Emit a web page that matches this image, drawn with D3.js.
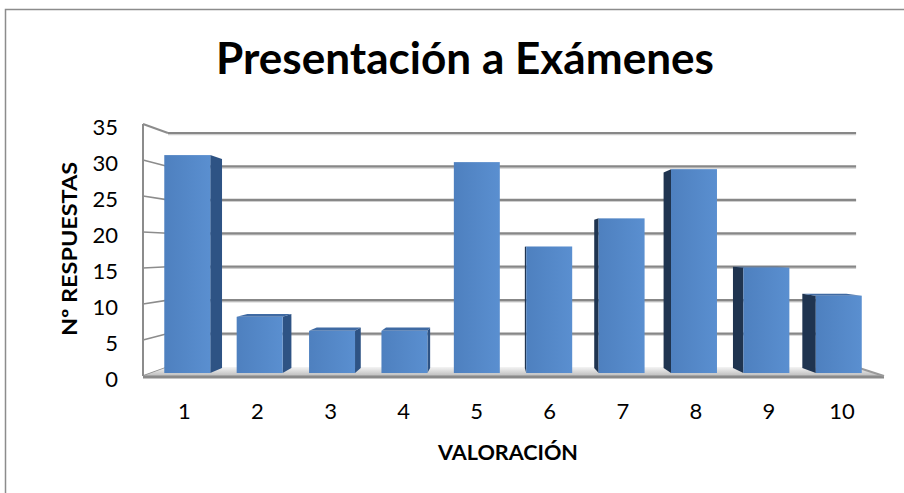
<!DOCTYPE html>
<html>
<head>
<meta charset="utf-8">
<script src="https://cdn.jsdelivr.net/npm/d3@7"></script>
<style>
  html, body { margin: 0; padding: 0; background: #fff; }
  svg { display: block; }
</style>
</head>
<body>
<svg id="chart" width="904" height="493"></svg>
<script>
// Responses per rating
const categories = ["1", "2", "3", "4", "5", "6", "7", "8", "9", "10"];
const responses = [31, 8, 6, 6, 30, 18, 22, 29, 15, 11];
const yTicks = [0, 5, 10, 15, 20, 25, 30, 35];
const chartTitle = "Presentación a Exámenes";
const xTitle = "VALORACIÓN";
const yTitle = "Nº RESPUESTAS";

const W = 904, H = 493;
const svg = d3.select("#chart");

// Front plane scales
const x = d3.scaleBand().domain(categories).range([143, 884])
  .paddingInner(0.365).paddingOuter(0.18);
const y = d3.scaleLinear().domain([0, 35]).range([376, 124]);

// Simple one-point perspective: depth 0 = front plane, depth 1 = back wall
const VX = 493, VY = 250, K = 0.9286;
function P(xf, v, d) {
  const s = 1 - d * (1 - K);
  return [VX + (xf - VX) * s, VY + (y(v) - VY) * s];
}
const poly = pts => "M" + pts.map(p => p.join(",")).join("L") + "Z";

const defs = svg.append("defs");
const gFront = defs.append("linearGradient").attr("id", "front").attr("x1", 0).attr("x2", 1);
gFront.append("stop").attr("offset", 0).attr("stop-color", "#4e80bf");
gFront.append("stop").attr("offset", 1).attr("stop-color", "#5a8fd0");
const gFloor = defs.append("linearGradient").attr("id", "floor").attr("x1", 0).attr("x2", 0).attr("y1", 0).attr("y2", 1);
gFloor.append("stop").attr("offset", 0).attr("stop-color", "#f4f4f4");
gFloor.append("stop").attr("offset", 1).attr("stop-color", "#bdbdbd");

// Outer chart border
svg.append("rect").attr("x", 5.5).attr("y", 9.5).attr("width", W + 10).attr("height", H + 10)
  .attr("fill", "none").attr("stroke", "#8c8c8c").attr("stroke-width", 1.5);

const font = "Lato, 'Open Sans', sans-serif";

// Title
svg.append("text").attr("x", 465).attr("y", 74).attr("text-anchor", "middle")
  .attr("font-family", font).attr("font-weight", 700).attr("font-size", 43)
  .attr("textLength", 498).attr("lengthAdjust", "spacingAndGlyphs")
  .attr("fill", "#000").text(chartTitle);

const [x0, x1] = x.range();

// Back wall gridlines
const grid = svg.append("g");
yTicks.filter(t => t > 0).forEach(t => {
  const a = P(x0, t, 1), b = P(x1, t, 1);
  grid.append("line").attr("x1", a[0]).attr("y1", a[1] + 1.5).attr("x2", b[0]).attr("y2", b[1] + 1.5)
    .attr("stroke", "#cfcfcf").attr("stroke-width", 1.5);
  grid.append("line").attr("x1", a[0]).attr("y1", a[1]).attr("x2", b[0]).attr("y2", b[1])
    .attr("stroke", "#878787").attr("stroke-width", 2.2);
});

// Left wall: front edge and tick lines receding to the back
const wall = svg.append("g").attr("stroke", "#8c8c8c").attr("fill", "none");
wall.append("line").attr("x1", x0).attr("y1", y(35)).attr("x2", x0).attr("y2", y(0)).attr("stroke-width", 2);
yTicks.forEach(t => {
  const a = P(x0, t, 0), b = P(x0, t, 1);
  wall.append("line").attr("x1", a[0]).attr("y1", a[1]).attr("x2", b[0]).attr("y2", b[1])
    .attr("stroke-width", t === 35 ? 2 : 1.6);
});

// Floor slab
const f = [P(x0, 0, 0), P(x1, 0, 0), P(x1, 0, 1), P(x0, 0, 1)];
svg.append("path").attr("d", poly(f)).attr("fill", "url(#floor)");
svg.append("line").attr("x1", x0).attr("y1", y(0) + 1).attr("x2", x1).attr("y2", y(0) + 1)
  .attr("stroke", "#8a8a8a").attr("stroke-width", 3);
svg.append("line").attr("x1", P(x1, 0, 1)[0]).attr("y1", P(x1, 0, 1)[1])
  .attr("x2", x1).attr("y2", y(0)).attr("stroke", "#9a9a9a").attr("stroke-width", 2);

// Columns
const D0 = 0.33, D1 = 0.9;
const bars = svg.append("g");
categories.forEach((c, i) => {
  const v = responses[i];
  const L = x(c), R = x(c) + x.bandwidth();
  const g = bars.append("g");
  // side faces
  if (R < VX) {
    g.append("path").attr("d", poly([P(R, 0, D0), P(R, v, D0), P(R, v, D1), P(R, 0, D1)]))
      .attr("fill", "#2e5384");
  } else if (L > VX) {
    g.append("path").attr("d", poly([P(L, 0, D0), P(L, v, D0), P(L, v, D1), P(L, 0, D1)]))
      .attr("fill", "#1f3450");
  }
  // top face when it sits below eye level
  if (y(v) > VY) {
    g.append("path").attr("d", poly([P(L, v, D0), P(R, v, D0), P(R, v, D1), P(L, v, D1)]))
      .attr("fill", "#3f6aa3");
  }
  // front face
  const a = P(L, v, D0), b = P(R, 0, D0);
  g.append("rect").attr("x", a[0]).attr("y", a[1]).attr("width", b[0] - a[0]).attr("height", b[1] - a[1])
    .attr("fill", "url(#front)");
});

// Value axis labels
svg.append("g").selectAll("text").data(yTicks).join("text")
  .attr("x", 118).attr("y", d => y(d) + 2).attr("text-anchor", "end")
  .attr("dominant-baseline", "central").attr("font-family", font).attr("font-size", 22)
  .attr("fill", "#000").text(d => d);

// Category labels
svg.append("g").selectAll("text").data(categories).join("text")
  .attr("x", d => P(x(d) + x.bandwidth() / 2, 0, 0.2)[0]).attr("y", 419)
  .attr("text-anchor", "middle").attr("font-family", font).attr("font-size", 22)
  .attr("fill", "#000").text(d => d);

// Axis titles
svg.append("text").attr("transform", "translate(68,249) rotate(-90)")
  .attr("text-anchor", "middle").attr("dominant-baseline", "central")
  .attr("font-family", font).attr("font-weight", 700).attr("font-size", 21)
  .attr("textLength", 174).attr("lengthAdjust", "spacingAndGlyphs").text(yTitle);
svg.append("text").attr("x", 508).attr("y", 460).attr("text-anchor", "middle")
  .attr("font-family", font).attr("font-weight", 700).attr("font-size", 21)
  .attr("textLength", 140).attr("lengthAdjust", "spacingAndGlyphs").text(xTitle);
</script>
</body>
</html>
